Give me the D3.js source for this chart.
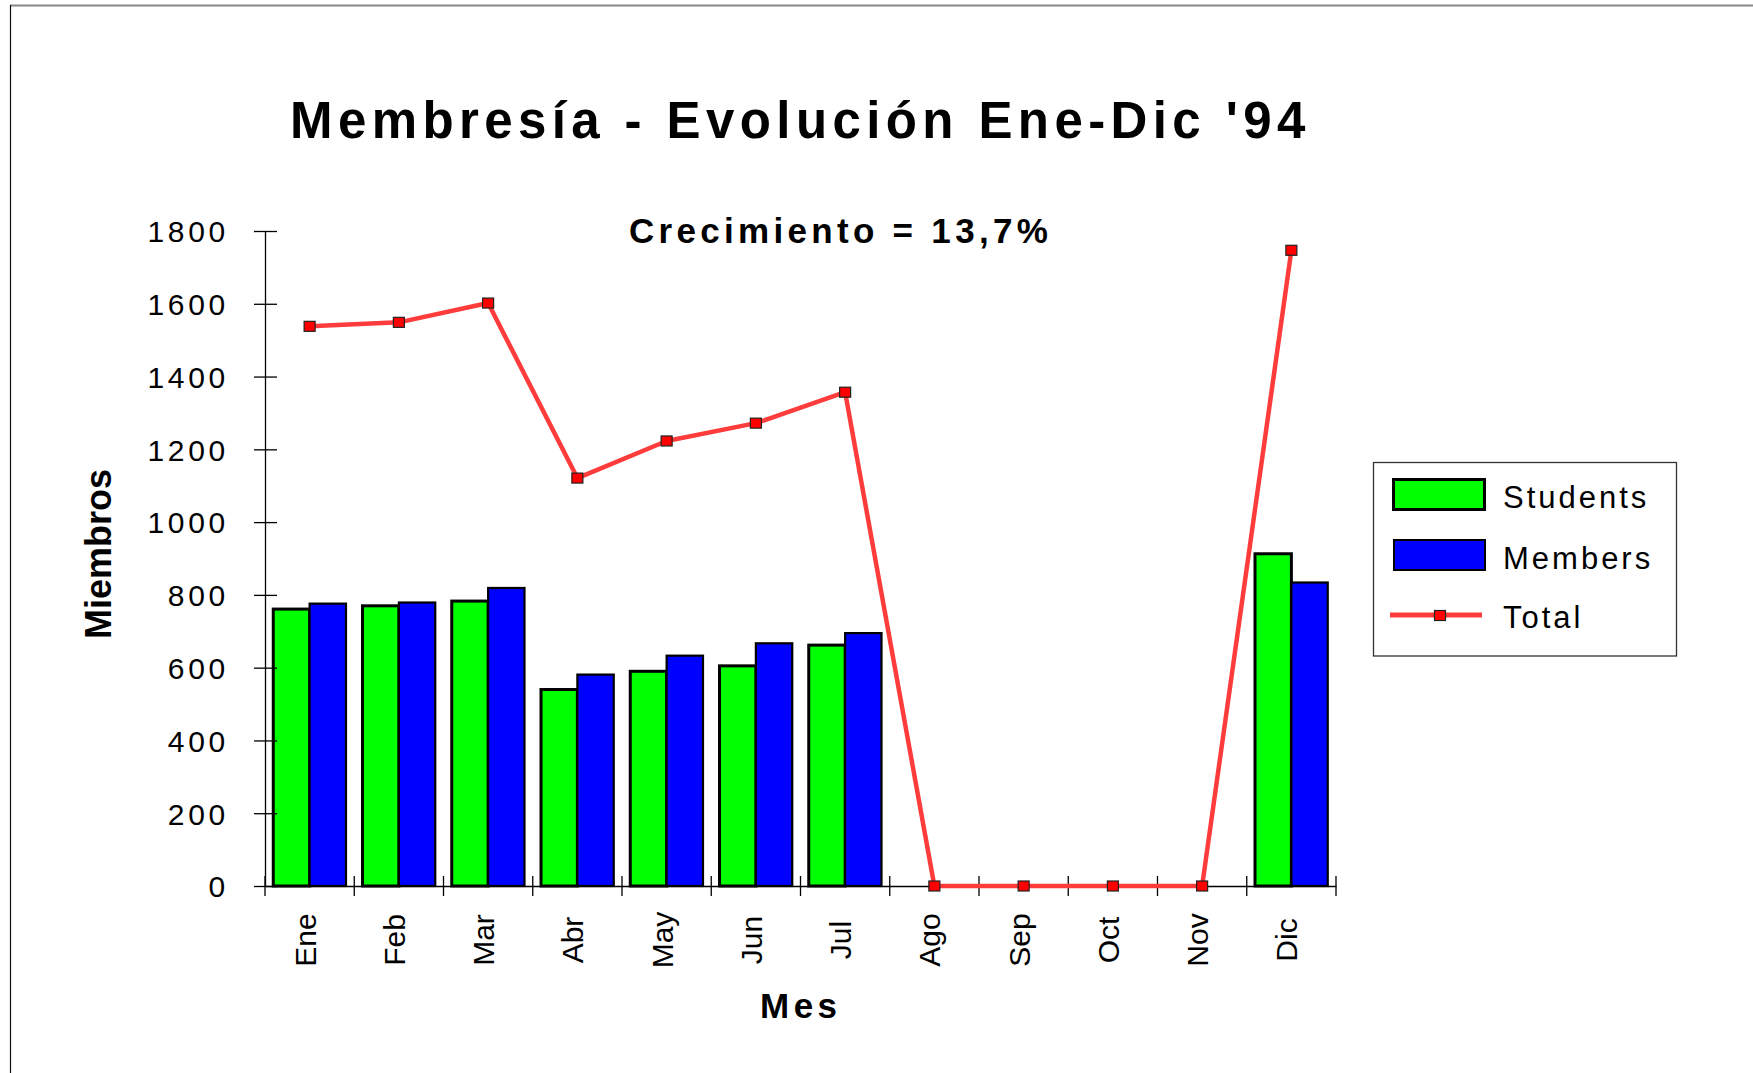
<!DOCTYPE html>
<html>
<head>
<meta charset="utf-8">
<script src="https://cdn.jsdelivr.net/npm/d3@7"></script>
<style>
  html, body { margin: 0; padding: 0; background: #fff; }
  svg { display: block; font-family: "Liberation Sans", Arial, sans-serif; }
</style>
</head>
<body>
<svg id="chart"></svg>
<script>
'use strict';

const WIDTH = 1753;
const HEIGHT = 1073;

// data
const months = ['Ene', 'Feb', 'Mar', 'Abr', 'May', 'Jun', 'Jul', 'Ago', 'Sep', 'Oct', 'Nov', 'Dic'];
const students = [761, 770, 783, 540, 590, 605, 662, 0, 0, 0, 0, 913];
const members = [776, 779, 819, 581, 633, 667, 695, 0, 0, 0, 0, 834];
const totals = [1538, 1549, 1602, 1121, 1223, 1272, 1357, 0, 0, 0, 0, 1747];
const yTicks = [0, 200, 400, 600, 800, 1000, 1200, 1400, 1600, 1800];

const SERIES = [
  { key: 'Students', values: students, fill: '#00ff00', sw: 3 },
  { key: 'Members', values: members, fill: '#0000ff', sw: 2.2 },
];
const LINE_COLOR = '#ff3c3c';

const PLOT = { left: 265, right: 1336, top: 231, bottom: 886 };

const svg = d3.select('#chart')
  .attr('width', WIDTH).attr('height', HEIGHT)
  .attr('viewBox', `0 0 ${WIDTH} ${HEIGHT}`);

// page frame (top + left edges only visible)
svg.append('line').attr('x1', 10).attr('y1', 5.5).attr('x2', WIDTH).attr('y2', 5.5)
  .attr('stroke', '#888').attr('stroke-width', 2);
svg.append('line').attr('x1', 10.5).attr('y1', 5).attr('x2', 10.5).attr('y2', HEIGHT)
  .attr('stroke', '#111').attr('stroke-width', 1.2);

const x = d3.scaleBand().domain(months)
  .range([PLOT.left, PLOT.right]).paddingInner(0.185).paddingOuter(0.0925);
const xs = d3.scaleBand().domain(SERIES.map(s => s.key)).range([0, x.bandwidth()]);
const y = d3.scaleLinear().domain([0, 1800]).range([PLOT.bottom, PLOT.top]);

// titles
svg.append('text').attr('x', 290).attr('y', 138)
  .attr('font-size', 51).attr('font-weight', 700).attr('letter-spacing', 5.4)
  .text("Membresía - Evolución Ene-Dic '94");
svg.append('text').attr('x', 629).attr('y', 243)
  .attr('font-size', 35).attr('font-weight', 700).attr('letter-spacing', 4.3)
  .text('Crecimiento = 13,7%');
svg.append('text').attr('transform', 'translate(111,554) rotate(-90)')
  .attr('text-anchor', 'middle').attr('font-size', 36).attr('font-weight', 700)
  .text('Miembros');
svg.append('text').attr('x', 760).attr('y', 1018)
  .attr('font-size', 35).attr('font-weight', 700).attr('letter-spacing', 4.5)
  .text('Mes');

// bars
const barsG = svg.append('g').attr('class', 'bars');
SERIES.forEach(s => {
  barsG.selectAll(null)
    .data(months.map((m, i) => ({ m, v: s.values[i] })).filter(d => d.v > 0))
    .join('rect')
    .attr('x', d => x(d.m) + xs(s.key))
    .attr('y', d => y(d.v))
    .attr('width', xs.bandwidth())
    .attr('height', d => y(0) - y(d.v))
    .attr('fill', s.fill)
    .attr('stroke', '#000')
    .attr('stroke-width', s.sw);
});

// y axis
const yAxis = svg.append('g').attr('transform', `translate(${PLOT.left},0)`)
  .call(d3.axisLeft(y).tickValues(yTicks).tickFormat(d3.format('d'))
    .tickSize(11).tickSizeOuter(0).tickPadding(0));
yAxis.select('.domain').attr('stroke', '#000').attr('stroke-width', 1.3);
yAxis.selectAll('.tick line').attr('x1', -11).attr('x2', 12)
  .attr('stroke', '#000').attr('stroke-width', 1.3);
yAxis.selectAll('.tick text')
  .attr('x', -36).attr('dy', '0.36em')
  .attr('font-family', '"Liberation Sans", Arial, sans-serif')
  .attr('font-size', 30).attr('letter-spacing', 3.7).attr('fill', '#000');

// x axis
const xAxis = svg.append('g').attr('transform', `translate(0,${PLOT.bottom})`)
  .call(d3.axisBottom(x).tickSize(0).tickSizeOuter(0));
xAxis.select('.domain').attr('stroke', '#000').attr('stroke-width', 1.3);
xAxis.selectAll('.tick text')
  .attr('transform', 'translate(6,54) rotate(-90)')
  .attr('x', 0).attr('y', 0).attr('dy', 0)
  .attr('text-anchor', 'middle')
  .attr('font-family', '"Liberation Sans", Arial, sans-serif')
  .attr('font-size', 30).attr('fill', '#000');

const gap = (x.step() - x.bandwidth()) / 2;
const bounds = months.map(m => x(m) - gap).concat([PLOT.right]);
svg.append('g').selectAll('line').data(bounds).join('line')
  .attr('x1', d => d).attr('x2', d => d)
  .attr('y1', PLOT.bottom - 10).attr('y2', PLOT.bottom + 10)
  .attr('stroke', '#000').attr('stroke-width', 1.3);

// total line
const cx = m => x(m) + x.bandwidth() / 2;
const line = d3.line().x((d, i) => cx(months[i])).y(d => y(d));
svg.append('path').datum(totals)
  .attr('d', line)
  .attr('fill', 'none').attr('stroke', LINE_COLOR).attr('stroke-width', 4.5)
  .attr('stroke-linejoin', 'round');
svg.append('g').selectAll('rect').data(totals).join('rect')
  .attr('x', (d, i) => cx(months[i]) - 5.5)
  .attr('y', d => y(d) - 5)
  .attr('width', 11).attr('height', 10)
  .attr('fill', '#ff0000').attr('stroke', '#222').attr('stroke-width', 1.2);

// legend
const lg = svg.append('g').attr('class', 'legend');
lg.append('rect').attr('x', 1373.5).attr('y', 462.5).attr('width', 303).attr('height', 193.5)
  .attr('fill', '#fff').attr('stroke', '#333').attr('stroke-width', 1.3);
lg.append('rect').attr('x', 1393.5).attr('y', 479.5).attr('width', 91).attr('height', 30)
  .attr('fill', SERIES[0].fill).attr('stroke', '#000').attr('stroke-width', 3);
lg.append('rect').attr('x', 1394).attr('y', 540).attr('width', 91).attr('height', 30)
  .attr('fill', SERIES[1].fill).attr('stroke', '#000').attr('stroke-width', 2);
lg.append('line').attr('x1', 1390).attr('x2', 1482).attr('y1', 615).attr('y2', 615)
  .attr('stroke', LINE_COLOR).attr('stroke-width', 5);
lg.append('rect').attr('x', 1434.5).attr('y', 610.5).attr('width', 11).attr('height', 10)
  .attr('fill', '#ff0000').attr('stroke', '#222').attr('stroke-width', 1.2);
const legendLabels = ['Students', 'Members', 'Total'];
const legendBase = [508, 569, 628];
lg.selectAll('text.lbl').data(legendLabels).join('text')
  .attr('class', 'lbl')
  .attr('x', 1503).attr('y', (d, i) => legendBase[i])
  .attr('font-size', 31).attr('letter-spacing', 3)
  .text(d => d);
</script>
</body>
</html>
